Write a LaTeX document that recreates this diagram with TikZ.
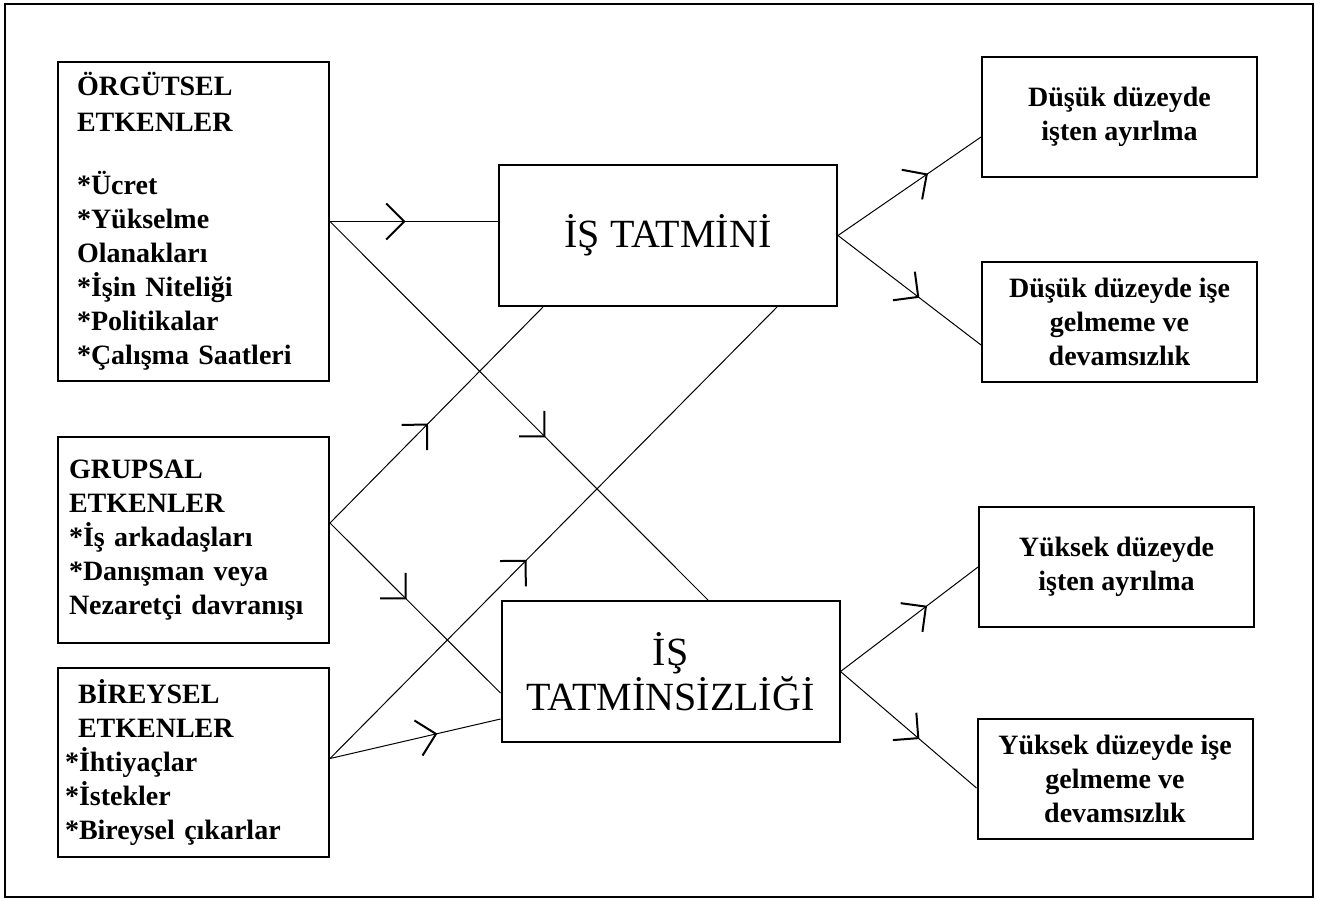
\documentclass[tikz,border=0pt]{standalone}
\usepackage{fontspec}
\setmainfont{Liberation Serif}
\usetikzlibrary{calc, arrows.meta, decorations.markings}
\tikzset{box/.style={draw, line width=1pt, inner sep=0pt}}
\tikzset{factor/.style={box, align=left, minimum width=135.5pt, font=\fontsize{14}{17}\selectfont\bfseries}}
\tikzset{outcome/.style={box, align=center, minimum width=137.5pt, minimum height=60pt, font=\fontsize{14}{17}\selectfont\bfseries}}
\tikzset{core/.style={box, align=center, minimum width=169pt, minimum height=70.5pt, font=\fontsize{20}{22.5}\selectfont}}
\tikzset{link/.style={line width=0.5pt, postaction={decorate}, decoration={markings, mark=at position #1 with {\arrow{Straight Barb[length=9pt, width=18pt, line width=1pt]}}}}}

\begin{document}
\begin{tikzpicture}[x=0.5pt, y=-0.5pt]
                \useasboundingbox (0,0) rectangle (1326,900);
                \draw[line width=1pt] (5,4) rectangle (1313,897);
                \node[factor, text width=116.5pt, minimum height=159.5pt] (org) at (193.5,221.5)
                    {ÖRGÜTSEL\\[1pt] ETKENLER\\[14.5pt]{}*Ücret\\{}*Yükselme\\ Olanakları\\{}*İşin Niteliği\\{}*Politikalar\\{}*Çalışma Saatleri};
                \node[factor, text width=124.5pt, minimum height=103pt] (grup) at (193.5,540)
                    {GRUPSAL\\ ETKENLER\\{}*İş arkadaşları\\{}*Danışman veya\\ Nezaretçi davranışı};
                \node[factor, text width=128.5pt, minimum height=94.5pt] (bir) at (193.5,762.5)
                    {\hspace*{6.5pt}BİREYSEL\\ \hspace*{6.5pt}ETKENLER\\{}*İhtiyaçlar\\{}*İstekler\\{}*Bireysel çıkarlar};
                \node[core] (tatmin) at (668,235.5) {İŞ TATMİNİ};
                \node[core] (tatminsiz) at (670.5,671.5) {İŞ\\ TATMİNSİZLİĞİ};
                \node[outcome] (dayr) at (1119.5,117) {Düşük düzeyde\\ işten ayırlma};
                \node[outcome] (dgel) at (1119.5,322) {Düşük düzeyde işe\\ gelmeme ve\\ devamsızlık};
                \node[outcome] (yayr) at (1116.5,567) {Yüksek düzeyde\\ işten ayrılma};
                \node[outcome] (ygel) at (1115,779) {Yüksek düzeyde işe\\ gelmeme ve\\ devamsızlık};
                \coordinate (gout) at ($(grup.east)+(0,-17)$);
                \coordinate (bout) at ($(bir.east)+(0,-4)$);
                \coordinate (tin1) at ($(tatmin.south)+(-125,0)$);
                \coordinate (tin2) at ($(tatmin.south)+(109,0)$);
                \coordinate (sin1) at ($(tatminsiz.north)+(37.5,0)$);
                \coordinate (sin2) at ($(tatminsiz.west)+(0,21.5)$);
                \coordinate (sin3) at ($(tatminsiz.west)+(0,47.5)$);
                \draw[link=0.45] (org.east) -- (tatmin.west |- org.east);
                \draw[link=0.57] (org.east) -- (sin1);
                \draw[link=0.46] (gout) -- (tin1);
                \draw[link=0.45] (gout) -- (sin2);
                \draw[link=0.44] (bout) -- (tin2);
                \draw[link=0.63] (bout) -- (sin3);
                \draw[link=0.63] (tatmin.east) -- ($(dayr.west)+(0,20)$);
                \draw[link=0.57] (tatmin.east) -- ($(dgel.west)+(0,23)$);
                \draw[link=0.63] (tatminsiz.east) -- (yayr.west);
                \draw[link=0.58] (tatminsiz.east) -- ($(ygel.west)+(0,9)$);
            \end{tikzpicture}
\end{document}
